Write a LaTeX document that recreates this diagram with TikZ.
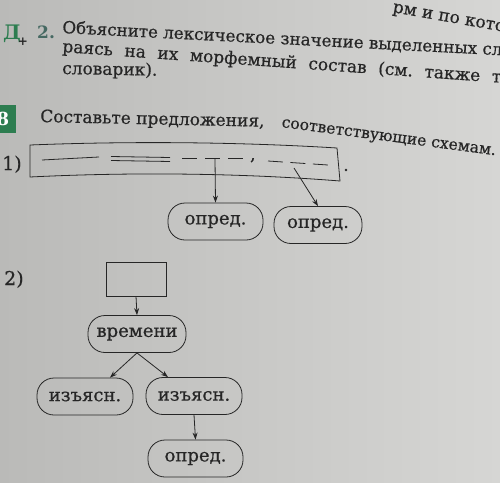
\documentclass[tikz,border=0pt]{standalone}
\usepackage{fontspec}
\setmainfont{DejaVu Serif}
\newfontfamily\med{DejaVu Serif}[FakeBold=0.6]
\usetikzlibrary{arrows.meta}
\definecolor{paperL}{RGB}{186,186,184}
\definecolor{paperR}{RGB}{214,214,212}
\definecolor{ink}{RGB}{38,38,38}
\definecolor{grn}{RGB}{45,125,80}
\definecolor{teal}{RGB}{70,105,98}
\frenchspacing
\begin{document}
\begin{tikzpicture}[x=1pt,y=-1pt,
  lbl/.style={draw=ink, line width=0.8pt, rounded corners=17pt, minimum height=37pt,
    minimum width=95pt, inner sep=0pt, text=ink, font=\med\fontsize{18}{18}\selectfont},
  arr/.style={draw=ink, line width=0.8pt, -{Stealth[length=7pt,width=5pt]}},
  txt/.style={anchor=base west, inner sep=0pt, text=ink, font=\med\fontsize{17}{17}\selectfont},
  ln/.style={draw=ink, line width=0.8pt}]
\useasboundingbox (0,0) rectangle (500,482);
\shade[left color=paperL, right color=paperR] (0,0) rectangle (500,482);
\begin{scope}
\clip (0,0) rectangle (500,482);
% top fragments
\node[txt, rotate=-10] (frag) at (392,12) {рм и по кото};
\node[anchor=base west, inner sep=0pt, text=grn, font=\fontsize{20}{20}\selectfont\bfseries] (dd) at (3,39) {Д};
\node[inner sep=0pt, text=ink, font=\fontsize{12}{12}\selectfont\bfseries] (plus) at (23,42) {+};
\node[anchor=base west, inner sep=0pt, text=teal, font=\fontsize{17}{17}\selectfont\bfseries] (n2) at (37,38) {2.};
\node[txt, rotate=-2.9, font=\med\fontsize{16.7}{16.7}\selectfont] (l1) at (62,33) {Объясните лексическое значение выделенных сло};
\node[txt, rotate=-4] (l2) at (62,52) {\makebox[450pt][s]{раясь на их морфемный состав (см. также то}};
\node[txt, rotate=-1] (l3) at (62,74) {словарик).};
% exercise 8
\fill[grn] (-5,105) rectangle (16,133);
\node[inner sep=0pt, text=white, font=\fontsize{18}{18}\selectfont\bfseries] (n8) at (3,119) {8};
\node[txt, rotate=-1.2] (h1) at (40,122) {Составьте предложения,};
\node[txt, rotate=-7.5, font=\med\fontsize{15.6}{15.6}\selectfont] (h2) at (281,127) {соответствующие схемам.};
\end{scope}
% scheme 1
\node[txt, font=\med\fontsize{19}{19}\selectfont] (s1) at (2,170) {1)};
\draw[ln] (30,145) .. controls (130,141) and (240,142) .. (337,148) -- (340,181)
  .. controls (240,173) and (130,172) .. (30,177) -- cycle;
\fill[ink] (346,170) circle (1.3);
\draw[ln] (42,160) -- (99,157);
\draw[ln] (111,156.5) -- (170,157.5);
\draw[ln] (111,160.5) -- (170,161.5);
\draw[ln, dash pattern=on 15pt off 8pt] (182,158) -- (243,158);
\node[txt] (comma) at (250,160) {,};
\draw[ln, dash pattern=on 15pt off 7.5pt] (268,161) -- (328,165);
\coordinate (a1) at (215,159);
\coordinate (a2) at (294,168);
\node[lbl] (o1) at (215.5,221.5) {опред.};
\node[lbl, minimum width=88pt] (o2) at (318,225) {опред.};
\draw[arr] (a1) -- (o1.north);
\draw[arr] (a2) -- (o2.north);
% scheme 2
\node[txt, font=\med\fontsize{19}{19}\selectfont] (s2) at (4,285) {2)};
\node[draw=ink, line width=0.8pt, minimum width=60pt, minimum height=34pt, inner sep=0pt] (r) at (136,279) {};
\node[lbl, minimum width=98pt] (v) at (137,334) {времени};
\node[lbl, minimum width=96pt] (i1) at (85,396.5) {изъясн.};
\node[lbl, minimum width=96pt] (i2) at (194,396) {изъясн.};
\node[lbl] (o3) at (195.5,458.5) {опред.};
\draw[arr] (r.south) -- (v.north);
\draw[arr] (v.south) -- ([xshift=25pt]i1.north);
\draw[arr] (v.south) -- ([xshift=-26pt]i2.north);
\draw[arr] (i2.south) -- (o3.north);
\end{tikzpicture}
\end{document}
